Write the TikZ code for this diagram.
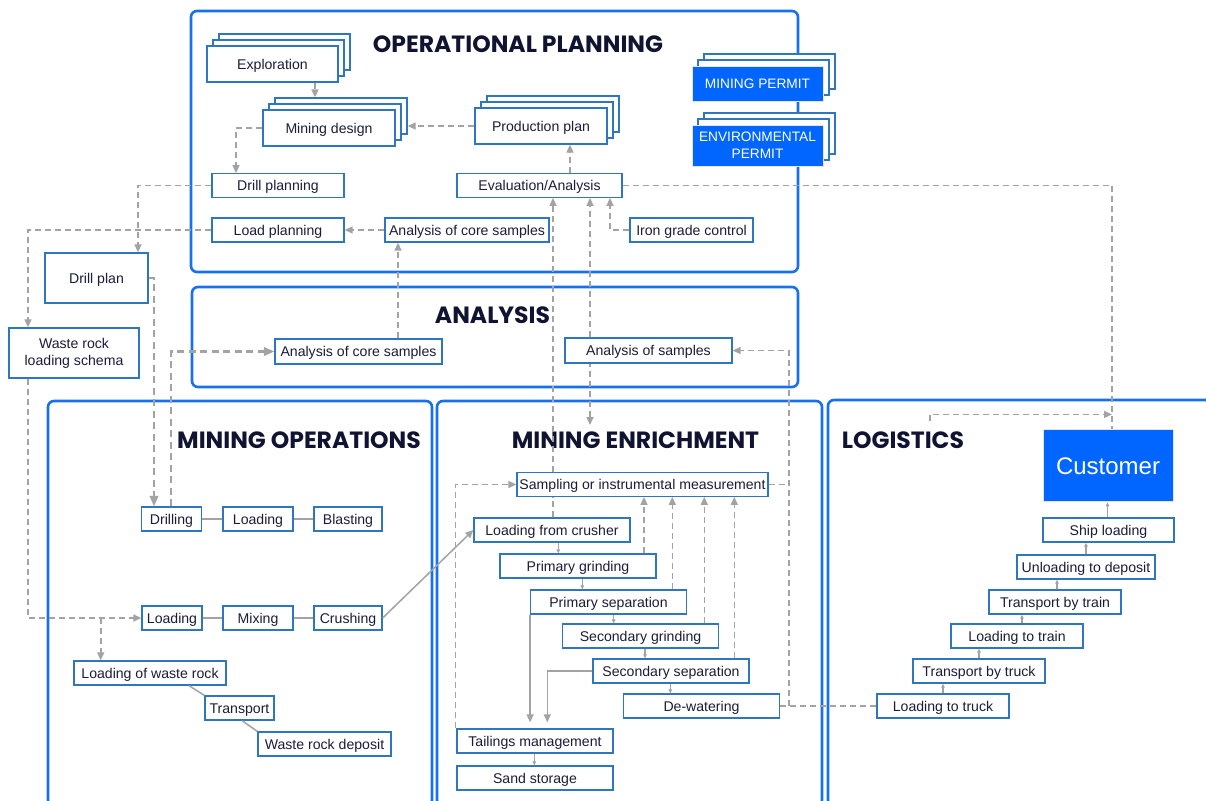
\documentclass[tikz,border=0pt]{standalone}
\usepackage{fontspec}
\setmainfont{Liberation Sans}
\newfontfamily\titlefont{Poppins}
\usetikzlibrary{arrows.meta}
\definecolor{frameblue}{RGB}{23,112,240}
\definecolor{boxblue}{RGB}{46,118,192}
\definecolor{txt}{RGB}{26,28,58}
\definecolor{navy}{RGB}{16,20,50}
\definecolor{lgray}{RGB}{163,163,163}
\definecolor{permblue}{RGB}{0,102,255}
\tikzset{
  bxm/.style={draw=boxblue, line width=1.3pt, fill=white, text=txt, inner sep=0pt,
    font=\fontsize{14.1}{17}\selectfont, align=center},
  bx/.style={bxm, text height=10.6pt, text depth=0.4pt},
  sz/.style 2 args={minimum width=#1pt, minimum height=#2pt},
  stkb/.style={draw=boxblue, line width=1.3pt, fill=white, inner sep=0pt},
  frm/.style={draw=frameblue, line width=2.6pt, rounded corners=6pt},
  ttl/.style={text=navy, inner sep=0pt, font=\titlefont\bfseries\fontsize{23.5}{25}\selectfont},
  pbox/.style={fill=permblue, draw=white!80!gray, line width=1pt, text=white, inner sep=0pt,
    align=center, font=\fontsize{13.7}{17}\selectfont},
  da/.style={draw=lgray, line width=1.6pt, dash pattern=on 6pt off 4pt},
  da2/.style={draw=lgray, line width=2.2pt, dash pattern=on 7pt off 4.5pt},
  sl/.style={draw=lgray, line width=1.5pt},
  arr/.style={-{Triangle[length=8pt,width=7pt]}},
  rarr/.style={{Triangle[length=8pt,width=7pt]}-},
  arrb/.style={-{Triangle[length=10.5pt,width=8.5pt]}},
  arrs/.style={-{Triangle[length=4pt,width=3.5pt]}},
}
% #1 name, #2 cx, #3 cy, #4 w, #5 h
\newcommand\mkstack[5]{%
  \node[stkb,sz={#4}{#5}] (#1-s2) at ({#2+12},{#3-12}) {};
  \node[stkb,sz={#4}{#5}] (#1-s1) at ({#2+6},{#3-6}) {};}
\begin{document}
\begin{tikzpicture}[x=1pt,y=-1pt]
\useasboundingbox (0,0) rectangle (1206,800);
\fill[white] (0,0) rectangle (1206,800);

% frames
\draw[frm] (191,11) rectangle (798,272);
\draw[frm] (192,287) rectangle (798,387);
\draw[frm] (48,401) rectangle (432,806);
\draw[frm] (437,401) rectangle (822,806);
\draw[frm] (828,400) rectangle (1215,806);

% titles
\node[ttl] (t1) at (518,44) {OPERATIONAL PLANNING};
\node[ttl] (t2) at (492.5,315.5) {ANALYSIS};
\node[ttl] (t3) at (299,440) {MINING OPERATIONS};
\node[ttl] (t4) at (635.5,440.5) {MINING ENRICHMENT};
\node[ttl] (t5) at (903,440) {LOGISTICS};

% operational planning
\mkstack{expl}{272.5}{64}{131}{36}
\node[bx,sz={131}{36}] (expl) at (272.5,64) {Exploration};
\mkstack{design}{329}{128}{132}{36}
\node[bx,sz={132}{36}] (design) at (329,128) {Mining design};
\mkstack{prod}{541}{126}{132}{36}
\node[bx,sz={132}{36}] (prod) at (541,126) {Production plan};
\node[bx,sz={132}{23.5}] (drillpl) at (278,185.5) {Drill planning};
\node[bx,sz={165}{23.5}] (eval) at (539.5,185.5) {Evaluation/Analysis};
\node[bx,sz={132}{24}] (loadpl) at (278,230) {Load planning};
\node[bx,sz={164}{24}] (core1) at (467,230) {Analysis of core samples};
\node[bx,sz={123}{24}] (iron) at (691.5,230) {Iron grade control};
\mkstack{mperm}{757.5}{83.5}{131}{35}
\node[pbox,sz={131}{35},text height=9.8pt,text depth=0pt] (mperm) at (757.5,83.5) {MINING PERMIT};
\mkstack{eperm}{757.5}{145.5}{131}{41}
\node[pbox,sz={131}{41}] (eperm) at (757.5,145.5) {ENVIRONMENTAL\\PERMIT};

% left side
\node[bx,sz={103}{50}] (drillplan) at (96.5,278) {Drill plan};
\node[bxm,sz={130}{50}] (wrschema) at (74,353) {Waste rock\\loading schema};

% analysis
\node[bx,sz={167}{25}] (core2) at (358.5,351.5) {Analysis of core samples};
\node[bx,sz={167}{25}] (asamples) at (648.5,350.5) {Analysis of samples};

% mining operations
\node[bx,sz={59.5}{24}] (drilling) at (171.5,519) {Drilling};
\node[bx,sz={70}{24}] (loading1) at (258,519) {Loading};
\node[bx,sz={68}{24}] (blasting) at (348,519) {Blasting};
\node[bx,sz={60}{24}] (loading2) at (172,618) {Loading};
\node[bx,sz={70}{24}] (mixing) at (258,618) {Mixing};
\node[bx,sz={68}{24}] (crushing) at (348,618) {Crushing};
\node[bx,sz={152}{24}] (lwr) at (150,673) {Loading of waste rock};
\node[bx,sz={69}{24}] (transport) at (239.5,708) {Transport};
\node[bx,sz={133}{24}] (wrd) at (324.5,744) {Waste rock deposit};

% mining enrichment
\node[bx,sz={251}{23.5}] (sampling) at (642.5,484.5) {Sampling or instrumental measurement};
\node[bx,sz={156}{24}] (lfc) at (552,530) {Loading from crusher};
\node[bx,sz={156}{24}] (pg) at (578,566) {Primary grinding};
\node[bx,sz={155.5}{24}] (ps) at (608.5,602) {Primary separation};
\node[bx,sz={155.5}{24}] (sg) at (640.5,636) {Secondary grinding};
\node[bx,sz={156}{24}] (ss) at (671,671) {Secondary separation};
\node[bx,sz={155.5}{24}] (dw) at (701.5,706) {De-watering};
\node[bx,sz={156}{24}] (tm) at (535,741) {Tailings management};
\node[bx,sz={156}{24}] (sand) at (535,778) {Sand storage};

% logistics
\node[pbox,sz={130}{72.5},font=\fontsize{24}{28}\selectfont,text height=17.4pt,text depth=0pt] (cust) at (1108,465.5) {Customer};
\node[bx,sz={131}{24}] (ship) at (1108.5,530) {Ship loading};
\node[bx,sz={138}{24}] (unload) at (1086,567) {Unloading to deposit};
\node[bx,sz={132}{24}] (ttrain) at (1055,602) {Transport by train};
\node[bx,sz={132}{24}] (ltrain) at (1017,636) {Loading to train};
\node[bx,sz={132}{24}] (ttruck) at (979,671) {Transport by truck};
\node[bx,sz={132}{24}] (ltruck) at (943,706) {Loading to truck};

\coordinate (enrin) at (590,425);
\coordinate (logst) at (930,421);

% operational planning connectors
\draw[da,arr] ([xshift=42.5]expl.south) -- ([xshift=42.5]expl.south |- design-s2.north);
\draw[da,arr] (design.west) -| ([xshift=-42]drillpl.north);
\draw[da,arr] (prod.west) -- (design-s2.east |- prod.west);
\draw[da,arr] ([xshift=30.5]eval.north) -- ([xshift=30.5]eval.north |- prod.south);
\draw[da,arr] (drillpl.west) -| ([xshift=41.5]drillplan.north);
\draw[da,arr] (loadpl.west) -| ([xshift=-46]wrschema.north);
\draw[da,arr] (core1.west) -- (loadpl.east);
\draw[da,arr] ([xshift=39.5]core2.north) -- ([xshift=39.5]core2.north |- core1.south);
\draw[da,arr] (iron.west) -| ([xshift=70.5]eval.south);
\draw[da] ([xshift=1]lfc.north) -- ([xshift=1]lfc.north |- sampling.south);
\draw[da,arr] ([xshift=1]lfc.north |- sampling.north) -- ([xshift=1]lfc.north |- eval.south);
\draw[da,rarr] (enrin) -- (enrin |- asamples.south);
\draw[da,arr] (enrin |- asamples.north) -- (enrin |- eval.south);
\draw[da] (eval.east) -| ([xshift=4]cust.north);
\draw[da,arr] (logst) |- ([xshift=4,yshift=14.3]cust.north);
% left side
\draw[da2,arrb] (drillplan.east) -| ([xshift=-17.5]drilling.north);
\draw[da2,arrb] ([xshift=-0.5]drilling.north) |- (core2.west);
\draw[da,arr] ([xshift=-46]wrschema.south) |- (loading2.west);
\draw[da,arr] ([xshift=-49.3]lwr.north |- loading2.west) -- ([xshift=-49.3]lwr.north);
% mining operations
\draw[sl] (drilling) -- (loading1);
\draw[sl] (loading1) -- (blasting);
\draw[sl] (loading2) -- (mixing);
\draw[sl] (mixing) -- (crushing);
\draw[sl] ([xshift=39]lwr.south) -- (transport.north west);
\draw[sl] ([xshift=2.5]transport.south) -- (wrd.north west);
\draw[sl,arr] (crushing.east) -- (lfc.west);
% enrichment chain
\draw[sl,arrs] ([xshift=6.3]lfc.south) -- ([xshift=6.3]lfc.south |- pg.north);
\draw[sl,arrs] ([xshift=4.3]pg.south) -- ([xshift=4.3]pg.south |- ps.north);
\draw[sl,arrs] ([xshift=5.2]ps.south) -- ([xshift=5.2]ps.south |- sg.north);
\draw[sl,arrs] ([xshift=4.5]sg.south) -- ([xshift=4.5]sg.south |- ss.north);
\draw[sl,arrs] ([xshift=-0.7]ss.south) -- ([xshift=-0.7]ss.south |- dw.north);
\draw[sl,arrs] ([xshift=-0.7]tm.south) -- ([xshift=-0.7]tm.south |- sand.north);
\draw[sl,arr] (ps.south west) -- ([yshift=6]ps.south west |- tm.north);
\draw[sl,arr] (ss.west) -| ([xshift=12.3,yshift=6]tm.north);
\draw[da,arr] ([xshift=66]pg.north) -- ([xshift=66]pg.north |- sampling.south);
\draw[da,arr] ([xshift=63.8]ps.north) -- ([xshift=63.8]ps.north |- sampling.south);
\draw[da,arr] ([xshift=63.8]sg.north) -- ([xshift=63.8]sg.north |- sampling.south);
\draw[da,arr] ([xshift=63.3]ss.north) -- ([xshift=63.3]ss.north |- sampling.south);
\draw[da,arr] ([xshift=-1]tm.north west) |- (sampling.west);
\draw[da] (dw.east) -- (ltruck.west);
\draw[da,arr] ([xshift=9]dw.east) |- (asamples.east);
\draw[da] (sampling.east) -- ([xshift=9]dw.east |- sampling.east);
% logistics chain
\draw[sl,arrs] (ltruck.north) -- (ltruck.north |- ttruck.south);
\draw[sl,arrs] (ttruck.north) -- (ttruck.north |- ltrain.south);
\draw[sl,arrs] ([xshift=5]ltrain.north) -- ([xshift=5]ltrain.north |- ttrain.south);
\draw[sl,arrs] ([xshift=2]ttrain.north) -- ([xshift=2]ttrain.north |- unload.south);
\draw[sl,arrs] (unload.north) -- (unload.north |- ship.south);
\draw[sl,arrs] ([xshift=-1]ship.north) -- ([xshift=-1]ship.north |- cust.south);
\end{tikzpicture}
\end{document}
